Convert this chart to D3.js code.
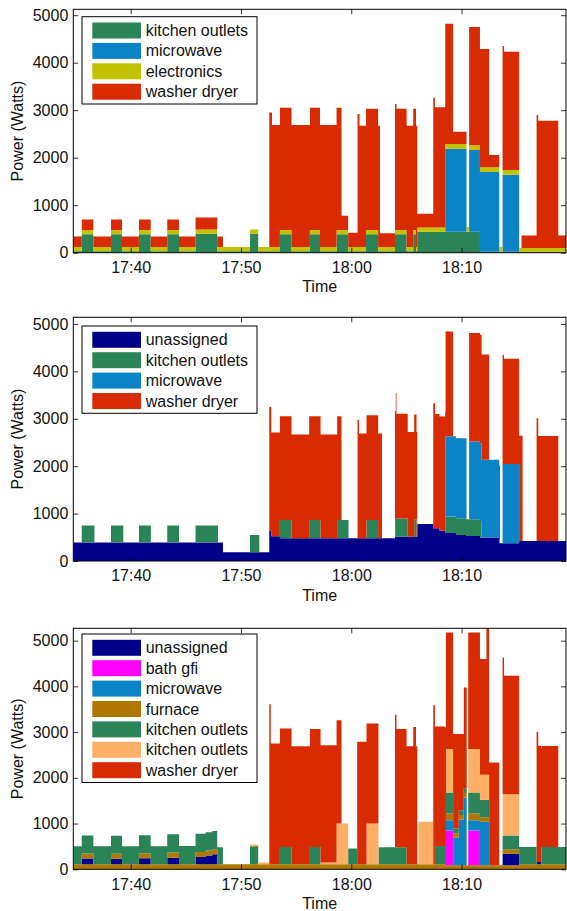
<!DOCTYPE html>
<html>
<head>
<meta charset="utf-8">
<script src="https://cdn.jsdelivr.net/npm/d3@7"></script>
<style>
body { margin: 0; background: #fff; }
svg { display: block; font-family: 'Liberation Sans', Arial, sans-serif; }
</style>
</head>
<body>
<div id="chart"></div>
<script>
// time = minutes after 17:00, value = watts. each point holds until the next one (step)
var t_start = 34.80
var t_end = 79.46
var x_ticks = [40, 50, 60, 70]
var y_ticks = [0, 1000, 2000, 3000, 4000, 5000]

// panel 1
var p1_kitchen = [[34.80, 30], [35.56, 390], [36.61, 30], [38.21, 390], [39.21, 30], [40.75, 390], [41.81, 30],
  [43.32, 390], [44.38, 30], [45.89, 400], [47.85, 30], [50.81, 400], [51.57, 30],
  [53.53, 390], [54.59, 30], [56.25, 390], [57.16, 30], [58.67, 390], [59.72, 30],
  [61.33, 390], [62.44, 30], [63.96, 390], [65.02, 30], [65.61, 390], [65.86, 30],
  [65.98, 440], [71.66, 20]]
var p1_microwave = [[34.80, 0], [68.51, 1750], [70.45, 0], [70.69, 1720], [71.66, 1680], [73.41, 0], [73.72, 1620], [75.22, 0]]
var p1_electronics = [[34.80, 90], [68.51, 100], [75.22, 80]]
var p1_washer = [[34.80, 220], [45.89, 250], [47.85, 220], [48.37, 0],
  [52.56, 2830], [52.81, 2570], [59.12, 300], [60.56, 2800], [60.75, 2550], [62.60, 290],
  [63.96, 2650], [64.10, 2550], [65.98, 290], [67.43, 2730], [67.58, 2530], [69.24, 257],
  [70.45, 0], [70.69, 2490], [72.50, 257], [73.41, 0], [73.72, 2610], [73.85, 2490],
  [75.22, 0], [75.44, 263], [76.80, 2800], [76.95, 2680], [78.76, 260]]

// panel 2
var p2_unassigned = [[34.80, 390], [48.37, 185], [52.56, 640], [52.75, 520], [53.53, 480], [63.96, 510],
  [65.98, 780], [67.43, 690], [68.00, 640], [68.51, 590], [69.50, 550], [70.45, 530], [71.66, 495],
  [73.41, 375], [75.22, 420]]
var p2_kitchen = [[34.80, 0], [35.56, 360], [36.72, 0], [38.21, 360], [39.34, 0], [40.75, 360], [41.84, 0],
  [43.32, 360], [44.38, 0], [45.89, 360], [47.91, 0], [50.81, 365], [51.66, 0], [53.53, 385], [54.59, 0],
  [56.19, 385], [57.22, 0], [58.72, 385], [59.75, 0], [61.39, 385], [62.44, 0], [64.03, 385], [65.12, 0],
  [65.70, 370], [65.92, 0], [68.51, 350], [71.81, 0]]
var p2_microwave = [[34.80, 0], [68.55, 1690], [70.45, 0], [70.69, 1640], [73.48, 0], [73.72, 1670], [75.22, 0]]
var p2_washer = [[34.80, 0], [52.56, 2610], [52.75, 2190], [59.12, 0], [60.56, 2500], [60.70, 2210], [62.78, 0],
  [63.96, 2650], [64.10, 2210], [65.98, 0], [67.43, 2640], [67.60, 2410], [68.51, 2210], [69.24, 0],
  [70.69, 2290], [71.81, 2220], [72.50, 0], [73.72, 2300], [73.85, 2220], [75.53, 0],
  [76.80, 2590], [76.95, 2215], [78.76, 0]]

// panel 3
var p3_base = [[34.80, 110], [68.51, 90], [75.22, 110]]
var p3_unassigned = [[34.80, 0], [35.56, 125], [36.61, 0], [38.21, 120], [39.21, 0], [40.75, 130], [41.81, 0],
  [43.32, 145], [44.38, 0], [45.89, 160], [46.80, 190], [47.40, 220], [47.85, 0], [73.72, 250], [75.22, 0],
  [76.80, 50], [77.20, 0]]
var p3_bath = [[34.80, 0], [68.58, 760], [69.24, 0], [70.60, 760], [71.66, 0]]
var p3_microwave = [[34.80, 0], [68.58, 220], [69.24, 600], [69.75, 1000], [70.20, 1480], [70.47, 0],
  [70.60, 220], [71.66, 950], [72.50, 0]]
var p3_furnace = [[34.80, 0], [35.56, 110], [36.61, 0], [38.21, 110], [39.21, 0], [40.75, 110], [41.81, 0],
  [43.32, 110], [44.38, 0], [45.89, 110], [47.85, 0], [68.58, 150], [69.24, 100], [70.47, 0],
  [70.60, 150], [71.66, 100], [72.50, 0], [73.72, 100], [75.22, 0]]
var p3_kitchen = [[34.80, 395], [43.32, 400], [47.85, 370], [48.37, 0], [50.81, 395], [51.57, 0],
  [53.53, 380], [54.59, 0], [56.25, 380], [57.22, 0], [59.72, 345], [60.53, 0], [62.47, 370], [65.02, 0],
  [67.58, 400], [68.58, 460], [69.24, 100], [70.47, 0], [70.60, 460], [71.66, 380], [72.50, 0],
  [73.72, 300], [75.22, 380], [76.80, 0], [77.25, 380]]
var p3_kitchen2 = [[34.80, 0], [50.81, 40], [52.56, 0], [57.22, 40], [58.67, 890], [59.72, 0], [61.39, 890],
  [62.47, 0], [66.10, 930], [67.43, 0], [68.58, 950], [69.24, 0], [70.60, 950], [71.66, 550], [72.50, 0],
  [73.72, 900], [75.22, 0]]
var p3_washer = [[34.80, 0], [52.56, 3500], [52.70, 2640], [53.53, 2590], [54.59, 2580], [57.22, 2560],
  [58.67, 2260], [59.12, 0], [60.53, 2680], [61.39, 2190], [62.47, 0], [63.96, 2900], [64.10, 2590],
  [65.02, 2580], [65.61, 3000], [65.86, 2580], [65.98, 0], [67.43, 3480], [67.58, 2610], [68.58, 2550],
  [69.24, 2066], [69.75, 1666], [70.20, 2206], [70.47, 0], [70.60, 2550], [71.66, 2530], [72.25, 3230],
  [72.50, 2245], [73.41, 0], [73.72, 2990], [73.85, 2590], [75.22, 0], [76.80, 2840], [76.95, 2540],
  [77.25, 2208], [78.76, 0]]

var colors = {
  unassigned: '#00008b',
  bath: '#ff00ff',
  microwave: '#0a84c6',
  furnace: '#b07800',
  kitchen: '#2b8358',
  kitchen2: '#ffb066',
  electronics: '#c2c200',
  washer: '#d92b02'
}

// bottom -> top stacking order
var panels = [
  { top: 9.3, bottom: 252.7, ymax: 5124, legend_top: 16.7,
    layers: [
      { key: 'kitchen', label: 'kitchen outlets', color: colors.kitchen, data: p1_kitchen },
      { key: 'microwave', label: 'microwave', color: colors.microwave, data: p1_microwave },
      { key: 'electronics', label: 'electronics', color: colors.electronics, data: p1_electronics },
      { key: 'washer', label: 'washer dryer', color: colors.washer, data: p1_washer }
    ] },
  { top: 317.3, bottom: 561, ymax: 5141, legend_top: 326,
    layers: [
      { key: 'unassigned', label: 'unassigned', color: colors.unassigned, data: p2_unassigned },
      { key: 'kitchen', label: 'kitchen outlets', color: colors.kitchen, data: p2_kitchen },
      { key: 'microwave', label: 'microwave', color: colors.microwave, data: p2_microwave },
      { key: 'washer', label: 'washer dryer', color: colors.washer, data: p2_washer }
    ] },
  { top: 628.3, bottom: 869.3, ymax: 5270, legend_top: 634,
    layers: [
      { key: 'base', label: null, color: colors.furnace, data: p3_base },
      { key: 'unassigned', label: 'unassigned', color: colors.unassigned, data: p3_unassigned },
      { key: 'bath', label: 'bath gfi', color: colors.bath, data: p3_bath },
      { key: 'microwave', label: 'microwave', color: colors.microwave, data: p3_microwave },
      { key: 'furnace', label: 'furnace', color: colors.furnace, data: p3_furnace },
      { key: 'kitchen', label: 'kitchen outlets', color: colors.kitchen, data: p3_kitchen },
      { key: 'kitchen2', label: 'kitchen outlets', color: colors.kitchen2, data: p3_kitchen2 },
      { key: 'washer', label: 'washer dryer', color: colors.washer, data: p3_washer }
    ] }
]

var W = 567
var H = 911
var left = 73.3
var right = 566
var font_size = 16
var text_color = '#111'

function at (m) {
  return new Date(2011, 3, 19, 17, 0, Math.round(m * 60))
}

function value_at (steps, m) {
  var v = 0
  steps.forEach(function (s) { if (s[0] <= m + 1e-9) v = s[1] })
  return v
}

var svg = d3.select('#chart').append('svg')
  .attr('width', W)
  .attr('height', H)

var x = d3.scaleTime().domain([at(t_start), at(t_end)]).range([left, right])

panels.forEach(function (p, pi) {
  var y = d3.scaleLinear().domain([0, p.ymax]).range([p.bottom, p.top])
  var keys = p.layers.map(function (l) { return l.key })

  var times = []
  p.layers.forEach(function (l) { l.data.forEach(function (s) { times.push(s[0]) }) })
  times.push(t_end)
  times = Array.from(new Set(times)).sort(function (a, b) { return a - b })

  var rows = times.map(function (m) {
    var row = { t: at(m) }
    p.layers.forEach(function (l) { row[l.key] = value_at(l.data, m) })
    return row
  })

  var stacked = d3.stack().keys(keys)(rows)

  var clip_id = 'clip' + pi
  svg.append('clipPath').attr('id', clip_id)
    .append('rect')
    .attr('x', left).attr('y', p.top)
    .attr('width', right - left).attr('height', p.bottom - p.top)

  var area = d3.area()
    .curve(d3.curveStepAfter)
    .x(function (d) { return x(d.data.t) })
    .y0(function (d) { return y(d[0]) })
    .y1(function (d) { return y(d[1]) })

  var g = svg.append('g')
  g.append('g').attr('clip-path', 'url(#' + clip_id + ')')
    .selectAll('path')
    .data(stacked)
    .join('path')
    .attr('fill', function (d, i) { return p.layers[i].color })
    .attr('d', area)

  // axes, ticks pointing inwards on all four sides
  var fmt = d3.timeFormat('%H:%M')
  var xt = x_ticks.map(at)
  var ax_b = g.append('g').attr('transform', 'translate(0,' + p.bottom + ')')
    .call(d3.axisBottom(x).tickValues(xt).tickFormat(fmt).tickSize(-5).tickPadding(9))
  var ax_t = g.append('g').attr('transform', 'translate(0,' + p.top + ')')
    .call(d3.axisTop(x).tickValues(xt).tickFormat('').tickSize(-5))
  var ax_l = g.append('g').attr('transform', 'translate(' + left + ',0)')
    .call(d3.axisLeft(y).tickValues(y_ticks).tickFormat(d3.format('d')).tickSize(-5).tickPadding(5))
  var ax_r = g.append('g').attr('transform', 'translate(' + right + ',0)')
    .call(d3.axisRight(y).tickValues(y_ticks).tickFormat('').tickSize(-5))
  ;[ax_b, ax_t, ax_l, ax_r].forEach(function (a) {
    a.select('.domain').remove()
    a.selectAll('line').attr('stroke', '#000').attr('stroke-width', 0.8)
    a.selectAll('text')
      .attr('fill', text_color)
      .style('font-size', font_size + 'px')
      .style('font-family', "'Liberation Sans', Arial, sans-serif")
  })

  g.append('rect')
    .attr('x', left).attr('y', p.top)
    .attr('width', right - left).attr('height', p.bottom - p.top)
    .attr('fill', 'none')
    .attr('stroke', '#000')
    .attr('stroke-width', 1)

  g.append('text').text('Time')
    .attr('x', (left + right) / 2)
    .attr('y', p.bottom + 39.5)
    .attr('text-anchor', 'middle')
    .attr('fill', text_color)
    .style('font-size', font_size + 'px')

  g.append('text').text('Power (Watts)')
    .attr('transform', 'translate(23,' + ((p.top + p.bottom) / 2) + ') rotate(-90)')
    .attr('text-anchor', 'middle')
    .attr('fill', text_color)
    .style('font-size', font_size + 'px')

  // legend
  var items = p.layers.filter(function (l) { return l.label })
  if (pi === 2) {
    // legend order in the third panel
    var order = ['unassigned', 'bath', 'microwave', 'furnace', 'kitchen', 'kitchen2', 'washer']
    items = order.map(function (k) { return p.layers.find(function (l) { return l.key === k }) })
  }
  var row_h = 20.4
  var lg = g.append('g').attr('transform', 'translate(82,' + p.legend_top + ')')
  lg.append('rect')
    .attr('x', 0).attr('y', 0)
    .attr('width', 175)
    .attr('height', 13.8 + (items.length - 1) * row_h + 12.3)
    .attr('fill', '#fff')
    .attr('stroke', '#000')
    .attr('stroke-width', 1)
  items.forEach(function (l, i) {
    var cy = 13.8 + i * row_h
    lg.append('rect')
      .attr('x', 10.3).attr('y', cy - 8)
      .attr('width', 48.7).attr('height', 16)
      .attr('fill', l.color)
    lg.append('text').text(l.label)
      .attr('x', 63.7).attr('y', cy + 5.5)
      .attr('fill', text_color)
      .style('font-size', font_size + 'px')
  })
})
</script>
</body>
</html>
